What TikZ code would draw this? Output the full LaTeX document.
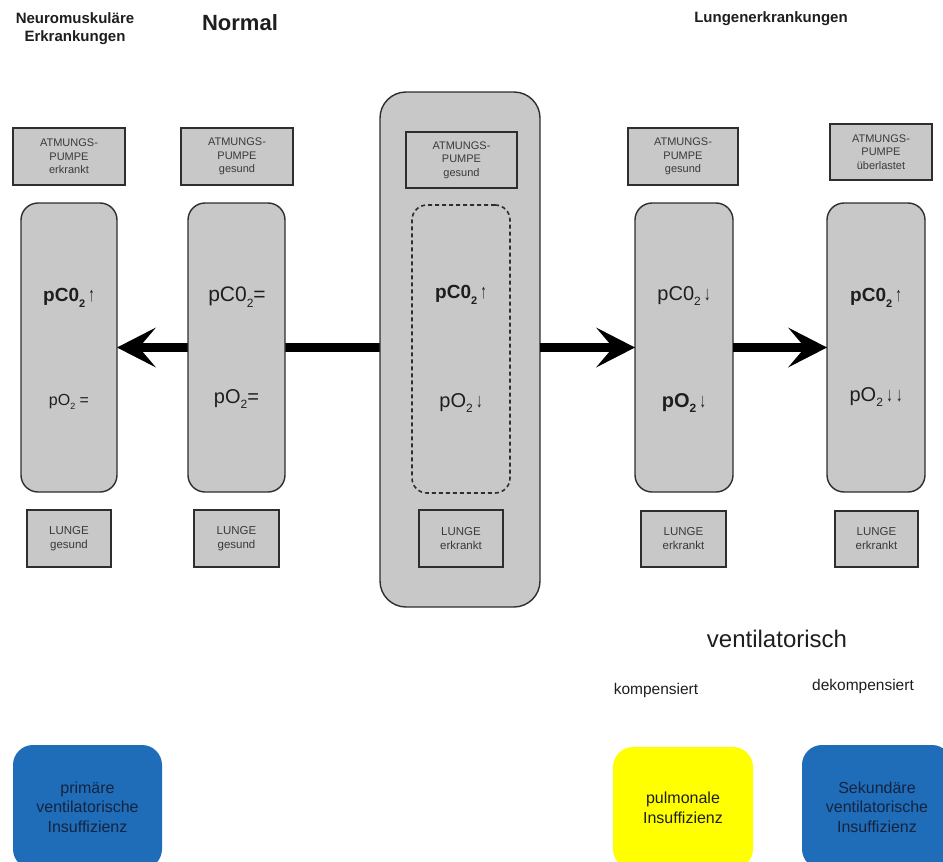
\documentclass[tikz,border=0pt]{standalone}
\usepackage{fontspec}
\setmainfont{Liberation Sans}
\usetikzlibrary{arrows.meta}
\pgfdeclarelayer{bg}
\pgfsetlayers{bg,main}
\definecolor{boxgray}{HTML}{C8C8C8}
\definecolor{edge}{HTML}{2E2E2E}
\definecolor{blueins}{HTML}{1F6CB8}
\definecolor{yellowins}{HTML}{FFFF00}
\definecolor{ink}{HTML}{1E1E1E}
\definecolor{softink}{HTML}{3A3A3A}
\definecolor{navyink}{HTML}{14243F}
\newcommand\lowtwo[1]{\raisebox{-0.55ex}{\fontsize{#1}{#1}\selectfont 2}}
\newcommand\fsz[1]{\fontsize{#1}{#1}\selectfont}
\newcommand\uparr{\,\scalebox{0.8}[1.25]{\fsz{16}↑}}
\newcommand\dnarr{\,\scalebox{0.8}[1.25]{\fsz{16}↓}}
\tikzset{
  box/.style={draw=edge, line width=1.6pt, fill=boxgray, inner sep=0pt, outer sep=0pt, align=center, text=softink},
  smallbox/.style={box, font=\fontsize{11}{13.5}\selectfont},
  lungbox/.style={box, font=\fontsize{11.5}{14}\selectfont},
  tallbox/.style={draw=edge, line width=1.4pt, fill=boxgray, rounded corners=17pt, inner sep=0pt, outer sep=0pt},
  bigbox/.style={draw=edge, line width=1.4pt, fill=boxgray, rounded corners=26pt, inner sep=0pt, outer sep=0pt},
  dashbox/.style={draw=edge, line width=1.6pt, dash pattern=on 4pt off 3pt, rounded corners=15pt, inner sep=0pt, outer sep=0pt},
  insbox/.style={rounded corners=20pt, inner sep=0pt, outer sep=0pt, align=center, font=\fontsize{16}{19.5}\selectfont},
  lbl/.style={inner sep=0pt, align=center, text=ink},
  bigarrow/.style={line width=8.5pt, draw=black, -{Stealth[length=39pt,width=40pt,inset=17pt,line width=0pt]}}
}
\begin{document}
\begin{tikzpicture}[x=1pt,y=-1pt]
\useasboundingbox (0,0) rectangle (943,862);
\clip (0,0) rectangle (943,862);

% headings
\node[lbl, font=\bfseries\fontsize{15}{18}\selectfont] (hneuro) at (75,29) {Neuromuskuläre\\Erkrankungen};
\node[lbl, font=\bfseries\fsz{22}] (hnormal) at (240,23) {Normal};
\node[lbl, font=\bfseries\fsz{15}] (hlunge) at (771,19) {Lungenerkrankungen};

% center big box
\node[bigbox, minimum width=160pt, minimum height=515pt] (cbig) at (460,349.5) {};

% top pump boxes
\node[smallbox, minimum width=112pt, minimum height=57pt] (p1) at (69,156.5) {ATMUNGS-\\PUMPE\\erkrankt};
\node[smallbox, minimum width=112pt, minimum height=57pt] (p2) at (237,156.5) {ATMUNGS-\\PUMPE\\gesund};
\node[smallbox, minimum width=111pt, minimum height=56pt] (pc) at (461.5,160) {ATMUNGS-\\PUMPE\\gesund};
\node[smallbox, minimum width=110pt, minimum height=57pt] (p4) at (683,156.5) {ATMUNGS-\\PUMPE\\gesund};
\node[smallbox, minimum width=102pt, minimum height=56pt] (p5) at (881,152) {ATMUNGS-\\PUMPE\\überlastet};

% tall boxes
\node[tallbox, minimum width=96pt, minimum height=289pt] (t1) at (69,347.5) {};
\node[tallbox, minimum width=97pt, minimum height=289pt] (t2) at (236.5,347.5) {};
\node[dashbox, minimum width=98pt, minimum height=288pt] (tc) at (461,349) {};
\node[tallbox, minimum width=98pt, minimum height=289pt] (t4) at (684,347.5) {};
\node[tallbox, minimum width=98pt, minimum height=289pt] (t5) at (876,347.5) {};

% lung boxes
\node[lungbox, minimum width=84pt, minimum height=57pt] (l1) at (69,538.5) {LUNGE\\gesund};
\node[lungbox, minimum width=85pt, minimum height=57pt] (l2) at (236.5,538.5) {LUNGE\\gesund};
\node[lungbox, minimum width=84pt, minimum height=57pt] (lc) at (461,538.5) {LUNGE\\erkrankt};
\node[lungbox, minimum width=85pt, minimum height=56pt] (l4) at (683.5,539) {LUNGE\\erkrankt};
\node[lungbox, minimum width=83pt, minimum height=56pt] (l5) at (876.5,539) {LUNGE\\erkrankt};

% values
\node[lbl, font=\bfseries\fsz{19}] (c1) at (69,298) {pC0\lowtwo{11}\uparr};
\node[lbl, font=\fsz{16}] (o1) at (69,402) {pO\lowtwo{9} =};
\node[lbl, font=\fsz{21}] (c2) at (237,297) {pC0\lowtwo{12}=};
\node[lbl, font=\fsz{20}] (o2) at (236.5,399) {pO\lowtwo{12}=};
\node[lbl, font=\bfseries\fsz{19}] (cc) at (461,295) {pC0\lowtwo{11}\uparr};
\node[lbl, font=\fsz{20}] (oc) at (461,403) {pO\lowtwo{12}\dnarr};
\node[lbl, font=\fsz{20}] (c4) at (684,296) {pC0\lowtwo{12}\dnarr};
\node[lbl, font=\bfseries\fsz{20}] (o4) at (684,403) {pO\lowtwo{12}\dnarr};
\node[lbl, font=\bfseries\fsz{19}] (c5) at (876,298) {pC0\lowtwo{11}\uparr};
\node[lbl, font=\fsz{20}] (o5) at (876,397) {pO\lowtwo{12}\dnarr\dnarr};

% arrows
\begin{pgfonlayer}{bg}
\draw[bigarrow] (cbig.west |- t1.east) -- (t1.east);
\end{pgfonlayer}
\draw[bigarrow] (cbig.east |- t4.west) -- (t4.west);
\draw[bigarrow] (t4.east) -- (t5.west);

% bottom labels
\node[lbl, font=\fsz{24}] (vent) at (777,639) {ventilatorisch};
\node[lbl, font=\fsz{15.5}] (komp) at (656,690) {kompensiert};
\node[lbl, font=\fsz{15.5}] (dekomp) at (863,686) {dekompensiert};

% insufficiency boxes
\node[insbox, fill=blueins, text=navyink, minimum width=149pt, minimum height=124pt] (b1) at (87.5,807) {primäre\\ventilatorische\\Insuffizienz};
\node[insbox, fill=yellowins, text=ink, minimum width=140pt, minimum height=122pt] (y1) at (683,808) {pulmonale\\Insuffizienz};
\node[insbox, fill=blueins, text=navyink, minimum width=150pt, minimum height=124pt] (b2) at (877,807) {Sekundäre\\ventilatorische\\Insuffizienz};
\end{tikzpicture}
\end{document}
